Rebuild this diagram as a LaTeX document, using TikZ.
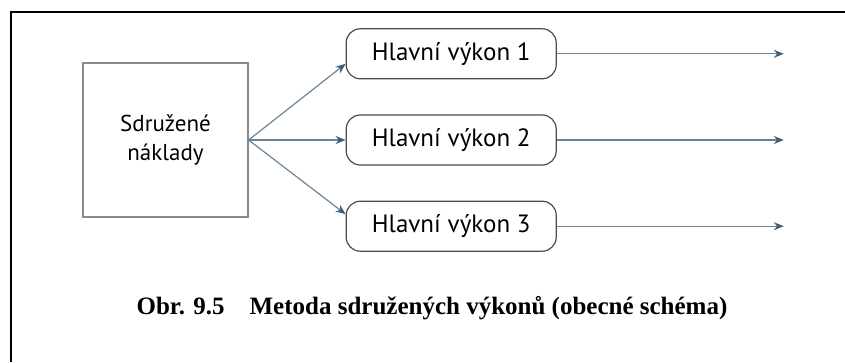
\documentclass[tikz,border=0pt]{standalone}
\usepackage{fontspec}
\setmainfont{Liberation Serif}
\setsansfont{PT Sans}
\usepackage{xcolor}
\usetikzlibrary{arrows.meta,positioning}

\definecolor{linkblue}{HTML}{6A8597}
\definecolor{tipblue}{HTML}{3D6078}
\definecolor{boxgray}{HTML}{8A8A8A}

\begin{document}
\begin{tikzpicture}[
  x=1pt, y=-1pt,
  costbox/.style={draw=boxgray, line width=1.2pt, minimum width=165pt, minimum height=154pt, align=center, font=\sffamily\fontsize{23}{29}\selectfont, inner sep=0pt},
  outbox/.style={draw=black!70, line width=1.2pt, rounded corners=14pt, minimum width=210pt, minimum height=50pt, font=\sffamily\fontsize{25}{28}\selectfont, inner sep=0pt},
  arrow/.style={-{Stealth[length=10pt, width=8pt, color=tipblue]}, draw=linkblue, line width=1.2pt},
  caption/.style={font=\bfseries\fontsize{25}{28}\selectfont},
]
\useasboundingbox (0,0) rectangle (845,362);

% outer frame
\draw[line width=2pt] (11,362) -- (11,12) -- (845,12);

\node[costbox] (costs) at (165.5,140) {Sdružené\\náklady};
\node[outbox, right=97pt of costs] (out2) {Hlavní výkon 2};
\node[outbox, above=35pt of out2] (out1) {Hlavní výkon 1};
\node[outbox, below=35pt of out2] (out3) {Hlavní výkon 3};

% fan out from the joint costs
\draw[arrow] (costs.east) -- ([yshift=-10pt]out1.west);
\draw[arrow] (costs.east) -- (out2.west);
\draw[arrow] (costs.east) -- ([yshift=12pt]out3.west);

\foreach \i in {1,2,3} {
  \coordinate (end\i) at ([xshift=227pt]out\i.east);
  \draw[arrow] (out\i.east) -- (end\i);
}

\node[caption] (title) at (432,308) {Obr. 9.5\quad Metoda sdružených výkonů (obecné schéma)};

\end{tikzpicture}
\end{document}
